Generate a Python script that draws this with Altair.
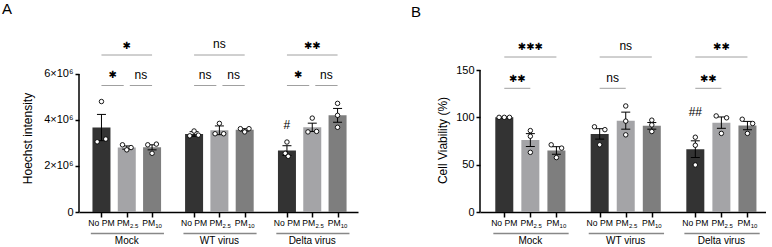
import altair as alt
import pandas as pd

FONT = "Liberation Sans"
SYM = "DejaVu Sans"

# ---------------- data ----------------
treatments = ["No PM", "PM2.5", "PM10"]
x_pos = [0, 1, 2, 3.66, 4.66, 5.66, 7.33, 8.33, 9.33]
treat_of_bar = treatments * 3
group_names = ["Mock", "WT virus", "Delta virus"]
group_first = [0, 3.66, 7.33]
group_mid = [1, 4.66, 8.33]
group_last = [2, 5.66, 9.33]
label_main = ["No PM", "PM", "PM"] * 3
label_sub = ["", "2.5", "10"] * 3

# Panel A: Hoechst intensity
a_mean = [3.67e6, 2.80e6, 2.81e6, 3.39e6, 3.55e6, 3.57e6, 2.67e6, 3.68e6, 4.20e6]
a_sem = [0.57e6, 0.07e6, 0.11e6, 0.10e6, 0.19e6, 0.05e6, 0.21e6, 0.18e6, 0.30e6]
a_pts = [
    [4.80e6, 3.05e6, 3.17e6],
    [2.92e6, 2.70e6, 2.80e6],
    [2.92e6, 2.55e6, 2.95e6],
    [3.31e6, 3.52e6, 3.34e6],
    [3.40e6, 3.85e6, 3.40e6],
    [3.62e6, 3.48e6, 3.62e6],
    [3.04e6, 2.55e6, 2.42e6],
    [4.08e6, 3.48e6, 3.50e6],
    [4.72e6, 4.20e6, 3.68e6],
]
a_slot = [[0, -1, 1], [-1, 0, 1], [-1, 0, 1], [-1, 0, 1], [-1, 0, 1],
          [-1, 0, 1], [0, -0.4, 0.3], [0, -1, 1], [0, 0, 0]]
a_ticks = [0, 2e6, 4e6, 6e6]
a_sig_x1 = [0, 3.66, 7.33, 0, 1.12, 3.66, 4.78, 7.33, 8.45]
a_sig_x2 = [2, 5.66, 9.33, 0.88, 2, 4.54, 5.66, 8.21, 9.33]
a_sig_lab = ["✱", "ns", "✱✱", "✱", "ns", "ns", "ns", "✱", "ns"]
a_sig_lvl = ["top", "top", "top", "low", "low", "low", "low", "low", "low"]
a_hash = ["#"]
a_hash_x = [7.33]
a_hash_y = [3.78e6]

# Panel B: Cell viability
b_mean = [100, 76, 65, 82.5, 96.5, 91, 66.4, 94.4, 91.3]
b_sem = [0, 6.8, 4.0, 5.5, 9.0, 3.5, 8.8, 6.0, 4.4]
b_pts = [
    [100, 100, 100],
    [86, 80, 63],
    [71, 67.5, 57.5],
    [90, 87, 71],
    [112, 96, 81.5],
    [97, 92, 85],
    [79, 70.5, 49.7],
    [101.5, 99.5, 83],
    [98, 93.5, 83],
]
b_slot = [[-1, 0, 1], [0, 0, 0], [-1, 1, 0], [-1, 1, 0], [0, 0, 0],
          [0, 0, 0], [0, 0, 0], [-1, 1, 0], [-1, 1, 0]]
b_ticks = [0, 50, 100, 150]
b_sig_x1 = [0, 3.66, 7.33, 0, 3.66, 7.33]
b_sig_x2 = [2, 5.66, 9.33, 1, 4.66, 8.33]
b_sig_lab = ["✱✱✱", "ns", "✱✱", "✱✱", "ns", "✱✱"]
b_sig_lvl = ["top", "top", "top", "low", "low", "low"]
b_hash = ["##"]
b_hash_x = [7.33]
b_hash_y = [106]

BAR_COLORS = ["#333333", "#a4a4a7", "#7e7e7e"]
GRAY = "#a0a0a0"
H = 142


def build_panel(mean, sem, pts, slots, jit, ydom, yticks, label_expr, ytitle,
                title_x, title_y, xdom, width, sx1, sx2, slab, slvl, lvl_y,
                hash_t, hash_x, hash_y, letter, letter_x, letter_y):
    xscale = alt.Scale(domain=xdom, nice=False, zero=False)
    xaxis = alt.Axis(values=x_pos, labels=False, ticks=True, tickSize=5,
                     tickWidth=1.5, tickColor="black", domain=True,
                     domainColor="black", domainWidth=1.5, grid=False, title=None)
    yscale = alt.Scale(domain=ydom, nice=False, zero=True)
    yaxis = alt.Axis(values=yticks, labelExpr=label_expr, tickSize=4,
                     tickWidth=1.5, tickColor="black", domain=False, grid=False,
                     labelFont=FONT, labelFontSize=11, labelColor="black",
                     labelPadding=2, title=ytitle, titleFont=FONT,
                     titleFontSize=12, titleFontWeight="normal", titleColor="black",
                     titleAngle=270, titleX=title_x, titleY=title_y,
                     titleAlign="center", titleBaseline="middle")

    def X(f):
        return alt.X(f, type="quantitative", scale=xscale, axis=xaxis)

    def Y(f):
        return alt.Y(f, type="quantitative", scale=yscale, axis=yaxis)

    bars_df = pd.DataFrame({
        "x": x_pos, "treat": treat_of_bar, "mean": mean,
        "lo": [m - s for m, s in zip(mean, sem)],
        "hi": [m + s for m, s in zip(mean, sem)],
        "main": label_main, "sub": label_sub,
    })
    rows = []
    for i in range(9):
        for v, s in zip(pts[i], slots[i]):
            rows.append({"x": x_pos[i], "slot": s, "v": v})
    pts_df = pd.DataFrame(rows)

    bars = alt.Chart(bars_df).mark_bar(size=18).encode(
        x=X("x"), y=Y("mean"),
        color=alt.Color("treat:N", scale=alt.Scale(domain=treatments, range=BAR_COLORS),
                        legend=None))
    err = alt.Chart(bars_df).mark_rule(color="black", strokeWidth=1).encode(
        x=X("x"), y=Y("lo"), y2="hi:Q")
    cap_hi = alt.Chart(bars_df).mark_tick(orient="horizontal", size=9, thickness=1,
                                          color="black", opacity=1).encode(x=X("x"), y=Y("hi"))
    cap_lo = alt.Chart(bars_df).mark_tick(orient="horizontal", size=9, thickness=1,
                                          color="black", opacity=1).encode(x=X("x"), y=Y("lo"))
    dots = alt.Chart(pts_df).transform_calculate(
        xp=f"datum.x + datum.slot * {jit}"
    ).mark_point(shape="circle", fill="white", fillOpacity=1, stroke="black",
                 strokeWidth=0.9, size=20, opacity=1).encode(x=X("xp"), y=Y("v"))

    yline = alt.Chart(pd.DataFrame({"y0": [0], "y1": [yticks[-1]]})).mark_rule(
        color="black", strokeWidth=1.5).encode(x=alt.value(0), y=Y("y0"), y2="y1:Q")

    # x labels
    lab_np = alt.Chart(bars_df[bars_df["sub"] == ""]).mark_text(
        font=FONT, fontSize=8.6, align="center", baseline="alphabetic", color="black"
    ).encode(x=X("x"), y=alt.value(156), text="main:N")
    lab_pm = alt.Chart(bars_df[bars_df["sub"] != ""]).mark_text(
        font=FONT, fontSize=8.6, align="right", baseline="alphabetic", dx=3, color="black"
    ).encode(x=X("x"), y=alt.value(156), text="main:N")
    lab_sub = alt.Chart(bars_df[bars_df["sub"] != ""]).mark_text(
        font=FONT, fontSize=6, align="left", baseline="alphabetic", dx=3.2, color="black"
    ).encode(x=X("x"), y=alt.value(158), text="sub:N")

    grp_df = pd.DataFrame({"g": group_names, "gl": [v - 0.42 for v in group_first],
                           "gh": [v + 0.47 for v in group_last], "gm": group_mid})
    grp_line = alt.Chart(grp_df).mark_rule(color="#888888", strokeWidth=1.3).encode(
        x=X("gl"), x2="gh:Q", y=alt.value(163.5))
    grp_text = alt.Chart(grp_df).mark_text(
        font=FONT, fontSize=10, align="center", baseline="alphabetic", color="black"
    ).encode(x=X("gm"), y=alt.value(173.5), text="g:N")

    sig_df = pd.DataFrame({"x1": sx1, "x2": sx2, "lab": slab, "lvl": slvl})
    sig_df["xm"] = (sig_df["x1"] + sig_df["x2"]) / 2
    sig_layers = []
    for lvl in ["top", "low"]:
        ly, sy, ny = lvl_y[lvl]
        d = sig_df[sig_df["lvl"] == lvl]
        sig_layers.append(alt.Chart(d).mark_rule(color=GRAY, strokeWidth=1).encode(
            x=X("x1"), x2="x2:Q", y=alt.value(ly)))
        ds = d[d["lab"] != "ns"]
        sig_layers.append(alt.Chart(ds).mark_text(
            font=SYM, fontSize=10, align="center", baseline="middle", color="black"
        ).encode(x=X("xm"), y=alt.value(sy), text="lab:N"))
        dn = d[d["lab"] == "ns"]
        sig_layers.append(alt.Chart(dn).mark_text(
            font=FONT, fontSize=12, align="center", baseline="alphabetic", color="black"
        ).encode(x=X("xm"), y=alt.value(ny), text="lab:N"))

    hash_df = pd.DataFrame({"t": hash_t, "x": hash_x, "y": hash_y})
    hashes = alt.Chart(hash_df).mark_text(
        font=FONT, fontSize=12, align="center", baseline="middle", color="black"
    ).encode(x=X("x"), y=Y("y"), text="t:N")

    let = alt.Chart(pd.DataFrame({"t": [letter]})).mark_text(
        font=FONT, fontSize=15, align="left", baseline="alphabetic", color="black"
    ).encode(x=alt.value(letter_x), y=alt.value(letter_y), text="t:N")

    return alt.layer(
        bars, err, cap_hi, cap_lo, dots, yline, lab_np, lab_pm, lab_sub,
        grp_line, grp_text, *sig_layers, hashes, let
    ).properties(width=width, height=H)


panel_a = build_panel(
    a_mean, a_sem, a_pts, a_slot, 0.17, [0, 6.17e6], a_ticks,
    "datum.value == 0 ? '0' : format(datum.value / 1e6, 'd') + '×10⁶'",
    "Hoechst intensity", -52, 68, [-0.69, 9.94], 279,
    a_sig_x1, a_sig_x2, a_sig_lab, a_sig_lvl,
    {"top": (-15, -24, -21.7), "low": (15.5, 5, 8.5)},
    a_hash, a_hash_x, a_hash_y, "A", -77, -55.7)

panel_b = build_panel(
    b_mean, b_sem, b_pts, b_slot, 0.2, [0, 150], b_ticks,
    "datum.label",
    "Cell Viability (%)", -38, 70, [-0.74, 9.85], 286,
    b_sig_x1, b_sig_x2, b_sig_lab, b_sig_lvl,
    {"top": (-13, -23.3, -20), "low": (18.3, 9, 11.7)},
    b_hash, b_hash_x, b_hash_y, "B", -69, -53.3)

chart = alt.hconcat(panel_a, panel_b, spacing=53).properties(
    padding={"left": 2, "top": 2, "right": 0, "bottom": 0}
).configure_view(stroke=None)

chart.save("out.html", embed_options={"renderer": "svg", "actions": False})
